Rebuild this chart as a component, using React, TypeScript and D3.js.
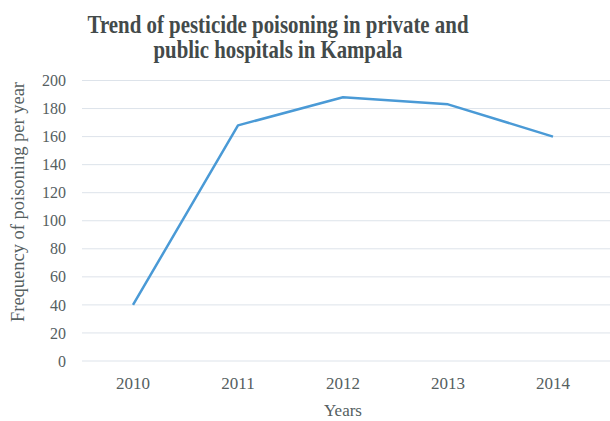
import React from "react";
import * as d3 from "d3";

const years = ["2010", "2011", "2012", "2013", "2014"];
const values = [40, 168, 188, 183, 160];
const yTicks = [0, 20, 40, 60, 80, 100, 120, 140, 160, 180, 200];
const titleLines = ["Trend of pesticide poisoning in private and", "public hospitals in Kampala"];

export default function App() {
  const W = 610, H = 421;
  const x = d3.scaleBand<string>().domain(years).range([80.5, 605.5]);
  const y = d3.scaleLinear().domain([0, 200]).range([361, 80.5]);
  const line = d3.line<number>()
    .x((_, i) => (x(years[i]) as number) + x.bandwidth() / 2)
    .y((d) => y(d));
  const font = "'Liberation Serif', 'Times New Roman', serif";
  return (
    <svg width={W} height={H} style={{ position: "absolute", left: 0, top: 0, background: "#fff" }} fontFamily={font}>
      <rect width={W} height={H} fill="#fff" />
      <text x={278} y={33} textAnchor="middle" fontSize={25} fontWeight="bold" fill="#434a4a" textLength={381} lengthAdjust="spacingAndGlyphs">{titleLines[0]}</text>
      <text x={278} y={58} textAnchor="middle" fontSize={25} fontWeight="bold" fill="#434a4a" textLength={249} lengthAdjust="spacingAndGlyphs">{titleLines[1]}</text>
      {yTicks.map((t) => (
        <g key={t}>
          <line x1={82} x2={610} y1={y(t)} y2={y(t)} stroke="#dde3ea" strokeWidth={1} />
          <text x={66} y={y(t)} dy="0.35em" textAnchor="end" fontSize={16} fill="#55605f">{t}</text>
        </g>
      ))}
      {years.map((yr) => (
        <text key={yr} x={(x(yr) as number) + x.bandwidth() / 2} y={389} textAnchor="middle" fontSize={17} fill="#55605f">{yr}</text>
      ))}
      <path d={line(values) || ""} fill="none" stroke="#4a9ad6" strokeWidth={2.5} strokeLinejoin="round" />
      <text x={343} y={416} textAnchor="middle" fontSize={17} fill="#55605f">Years</text>
      <text transform="translate(24,202) rotate(-90)" textAnchor="middle" fontSize={18} fill="#55605f" textLength={240} lengthAdjust="spacingAndGlyphs">Frequency of poisoning per year</text>
    </svg>
  );
}
